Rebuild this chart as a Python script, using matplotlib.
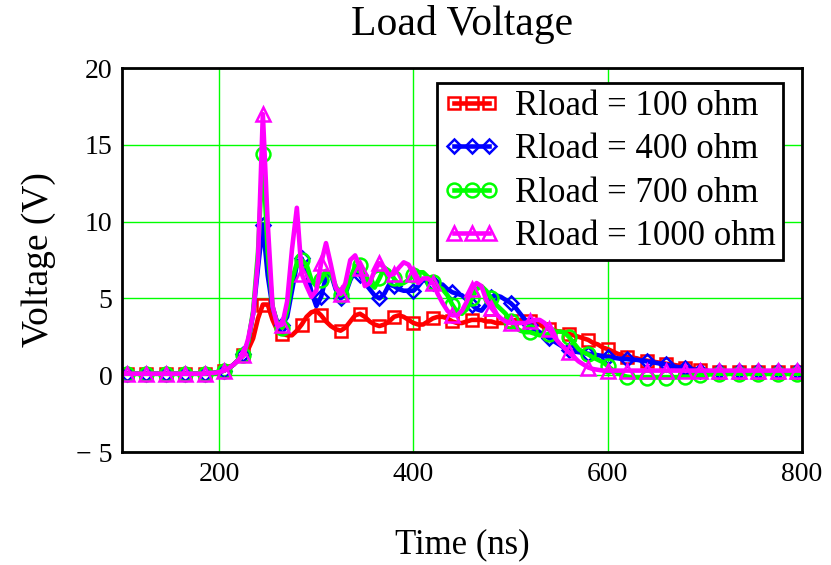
import matplotlib.pyplot as plt
import numpy as np

# time axis (ns), 5 ns steps
t_ns = np.arange(100, 805, 5)

# Rload = 100 ohm
v_100 = [0.1, 0.1, 0.1, 0.1, 0.1, 0.1, 0.1, 0.1, 0.1, 0.1,
         0.1, 0.1, 0.1, 0.1, 0.1, 0.1, 0.1, 0.1, 0.15, 0.15,
         0.2, 0.3, 0.45, 0.7, 1.0, 1.3, 1.7, 2.4, 3.7, 4.6,
         4.6, 3.6, 2.9, 2.7, 2.6, 2.6, 2.9, 3.3, 3.8, 4.1,
         4.2, 3.9, 3.5, 3.2, 3.0, 2.9, 3.1, 3.5, 3.9, 4.0,
         3.8, 3.5, 3.3, 3.2, 3.3, 3.5, 3.8, 3.9, 3.8, 3.6,
         3.4, 3.3, 3.3, 3.5, 3.7, 3.8, 3.8, 3.7, 3.5, 3.4,
         3.4, 3.5, 3.6, 3.6, 3.6, 3.5, 3.5, 3.4, 3.4, 3.4,
         3.5, 3.6, 3.6, 3.6, 3.5, 3.4, 3.3, 3.1, 3.0, 2.9,
         2.85, 2.8, 2.7, 2.6, 2.5, 2.4, 2.3, 2.1, 2.0, 1.8,
         1.7, 1.55, 1.4, 1.3, 1.2, 1.15, 1.1, 1.0, 0.95, 0.9,
         0.85, 0.8, 0.75, 0.7, 0.65, 0.6, 0.5, 0.45, 0.4, 0.35,
         0.3, 0.25, 0.2, 0.2, 0.2, 0.2, 0.2, 0.2, 0.2, 0.2,
         0.2, 0.2, 0.2, 0.2, 0.2, 0.2, 0.2, 0.2, 0.2, 0.2,
         0.2]

# Rload = 400 ohm
v_400 = [0.1, 0.1, 0.1, 0.1, 0.1, 0.1, 0.1, 0.1, 0.1, 0.1,
         0.1, 0.1, 0.1, 0.1, 0.1, 0.1, 0.1, 0.1, 0.15, 0.15,
         0.2, 0.3, 0.45, 0.7, 1.0, 1.4, 2.2, 4.0, 7.0, 9.8,
         6.5, 4.4, 3.4, 3.3, 3.8, 5.5, 7.2, 7.6, 6.8, 5.4,
         4.5, 5.1, 6.4, 6.6, 5.6, 5.0, 5.3, 6.2, 6.8, 6.5,
         6.0, 5.6, 5.2, 5.0, 5.3, 5.9, 5.8, 5.6, 5.5, 5.5,
         5.5, 5.8, 6.2, 6.1, 6.0, 5.9, 5.9, 5.6, 5.4, 5.3,
         5.2, 4.9, 4.6, 4.3, 4.2, 4.6, 5.1, 5.2, 5.1, 4.9,
         4.7, 4.4, 4.0, 3.6, 3.3, 3.0, 2.8, 2.6, 2.4, 2.2,
         2.0, 1.8, 1.65, 1.55, 1.5, 1.45, 1.4, 1.35, 1.3, 1.25,
         1.2, 1.15, 1.1, 1.05, 1.05, 1.0, 1.0, 0.95, 0.9, 0.85,
         0.8, 0.75, 0.7, 0.6, 0.55, 0.5, 0.45, 0.4, 0.35, 0.3,
         0.3, 0.25, 0.25, 0.25, 0.25, 0.25, 0.25, 0.25, 0.25, 0.25,
         0.25, 0.25, 0.25, 0.25, 0.25, 0.25, 0.25, 0.25, 0.25, 0.25,
         0.25]

# Rload = 700 ohm
v_700 = [0.1, 0.1, 0.1, 0.1, 0.1, 0.1, 0.1, 0.1, 0.1, 0.1,
         0.1, 0.1, 0.1, 0.1, 0.1, 0.1, 0.1, 0.1, 0.15, 0.15,
         0.2, 0.3, 0.45, 0.7, 1.0, 1.3, 2.2, 4.2, 8.0, 14.4,
         8.0, 4.5, 3.3, 3.1, 4.2, 6.2, 7.3, 7.5, 7.2, 6.2,
         5.8, 6.2, 6.8, 6.6, 5.8, 5.2, 5.4, 6.3, 7.1, 7.2,
         6.6, 6.0, 5.7, 6.3, 7.0, 6.8, 6.3, 5.9, 6.0, 6.2,
         6.5, 6.7, 6.7, 6.4, 6.1, 5.8, 5.6, 5.2, 4.6, 4.1,
         4.0, 4.3, 5.0, 5.6, 5.8, 5.5, 5.0, 4.6, 4.3, 4.0,
         3.5, 3.1, 2.9, 2.8, 2.8, 2.7, 2.6, 2.6, 2.7, 2.8,
         2.85, 2.8, 2.5, 2.1, 1.7, 1.5, 1.35, 1.15, 1.0, 0.85,
         0.6, 0.35, 0.15, 0.0, -0.1, -0.15, -0.15, -0.15, -0.15, -0.15,
         -0.15, -0.15, -0.15, -0.15, -0.15, -0.1, -0.1, -0.1, -0.05, 0.0,
         0.0, 0.05, 0.1, 0.1, 0.1, 0.1, 0.1, 0.1, 0.1, 0.1,
         0.1, 0.1, 0.1, 0.1, 0.1, 0.1, 0.1, 0.1, 0.1, 0.1,
         0.1]

# Rload = 1000 ohm
v_1000 = [0.1, 0.1, 0.1, 0.1, 0.1, 0.1, 0.1, 0.1, 0.1, 0.1,
          0.1, 0.1, 0.1, 0.1, 0.1, 0.1, 0.1, 0.1, 0.15, 0.15,
          0.2, 0.3, 0.45, 0.7, 1.0, 1.3, 2.4, 4.0, 7.5, 17.0,
          9.9, 4.5, 3.2, 3.3, 4.8, 8.2, 10.9, 6.6, 5.8, 5.1,
          5.5, 7.3, 8.6, 7.2, 5.7, 5.3, 6.0, 7.5, 7.8, 7.0,
          5.8, 6.0, 6.8, 7.3, 7.0, 6.5, 6.6, 7.0, 7.35, 7.2,
          6.6, 6.0, 6.3, 6.3, 6.0, 5.3, 4.7, 4.2, 3.9, 3.9,
          4.2, 4.8, 5.6, 6.0, 5.8, 4.9, 4.4, 4.0, 3.7, 3.5,
          3.4, 3.4, 3.4, 3.4, 3.5, 3.6, 3.6, 3.4, 3.0, 2.5,
          2.1, 1.8, 1.5, 1.2, 0.9, 0.7, 0.5, 0.4, 0.35, 0.3,
          0.3, 0.3, 0.3, 0.3, 0.3, 0.3, 0.3, 0.3, 0.3, 0.3,
          0.3, 0.3, 0.3, 0.3, 0.3, 0.3, 0.3, 0.3, 0.3, 0.3,
          0.3, 0.3, 0.3, 0.3, 0.3, 0.3, 0.3, 0.3, 0.3, 0.3,
          0.3, 0.3, 0.3, 0.3, 0.3, 0.3, 0.3, 0.3, 0.3, 0.3,
          0.3]

labels = ['Rload = 100 ohm', 'Rload = 400 ohm', 'Rload = 700 ohm', 'Rload = 1000 ohm']

x_ticks = [200, 400, 600, 800]
y_ticks = [-5, 0, 5, 10, 15, 20]
y_tick_labels = ['\u2212 5', '0', '5', '10', '15', '20']

plt.rcParams['font.family'] = ['Liberation Serif', 'DejaVu Serif']

fig = plt.figure(figsize=(8.31, 5.65), dpi=100)
ax = fig.add_axes([0.1468, 0.2, 0.8183, 0.6796])

# symbols sit on every ~19.7 ns
mk = [int(np.abs(t_ns - m).argmin()) for m in 106.5 + 19.7 * np.arange(36)]

styles = [('#ff0000', 's', 9), ('#0000ff', 'D', 7.5),
          ('#00ff00', 'o', 10), ('#ff00ff', '^', 9.5)]

for v, lab, (c, m, ms) in zip([v_100, v_400, v_700, v_1000], labels, styles):
    ax.plot(t_ns, v, color=c, lw=3.3, marker=m, ms=ms, mfc='none', mec=c, mew=1.8,
            markevery=mk, label=lab)

ax.set_xlim(100, 800)
ax.set_ylim(-5, 20)
ax.set_xticks(x_ticks)
ax.set_yticks(y_ticks)
ax.set_yticklabels(y_tick_labels)
ax.grid(True, color='#00ff00', lw=1)
ax.set_axisbelow(True)
ax.tick_params(length=0, labelsize=20, pad=7)

for s in ax.spines.values():
    s.set_linewidth(2)
    s.set_color('black')

ax.set_title('Load Voltage', fontsize=30, pad=24)
ax.set_xlabel('Time (ns)', fontsize=25, labelpad=30)
ax.set_ylabel('Voltage (V)', fontsize=27, labelpad=14)

leg = ax.legend(loc='upper right', bbox_to_anchor=(0.972, 0.961), fontsize=25,
                numpoints=3, handlelength=1.6, handletextpad=0.45, labelspacing=0.3,
                borderpad=0.2, borderaxespad=0, fancybox=False, framealpha=1,
                edgecolor='black')
leg.get_frame().set_linewidth(2)

fig.savefig('out.png', dpi=100)
